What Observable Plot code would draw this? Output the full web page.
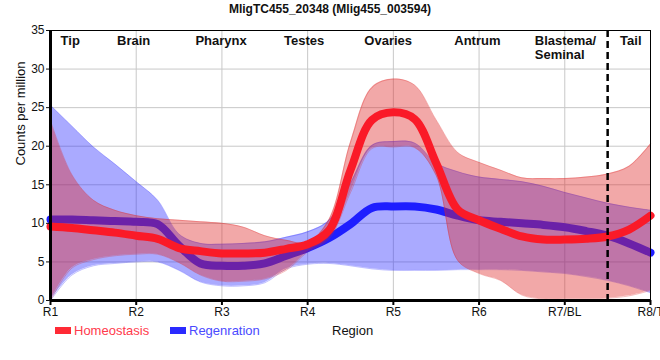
<!DOCTYPE html>
<html><head><meta charset="utf-8">
<script src="https://cdn.jsdelivr.net/npm/d3@7"></script>
<script src="https://cdn.jsdelivr.net/npm/@observablehq/plot@0.6"></script>
<style>
body{margin:0;background:#fff;font-family:"Liberation Sans",Arial,sans-serif;}
#wrap{position:relative;width:660px;height:360px;overflow:hidden;}
#title{position:absolute;left:0;top:0;width:660px;height:18px;line-height:18px;text-align:center;font-weight:bold;font-size:12px;color:#111;}
#chart{position:absolute;left:0;top:20px;}
#legend{position:absolute;left:0;top:320px;width:660px;height:22px;font-size:13px;}
.sw{position:absolute;top:7px;width:16px;height:7px;}
.lt{position:absolute;top:0;line-height:21px;}
</style></head>
<body>
<div id="wrap">
  <div id="title"></div>
  <div id="chart"></div>
  <div id="legend"></div>
</div>
<script>
const title = "MligTC455_20348 (Mlig455_003594)";
const xLabels = ["R1","R2","R3","R4","R5","R6","R7/BL","R8/T"];
const xTicks = [0,1,2,3,4,5,6,7];
const yTicks = [0,5,10,15,20,25,30,35];
const regionNames = ["Tip","Brain","Pharynx","Testes","Ovaries","Antrum","Tail"];
const regionX = [0.23,0.97,1.99,2.96,3.94,4.98,6.77];
const regionMulti = ["Blastema/\nSeminal"];
const regionMultiX = [5.65];
const tailBoundary = [6.5];
const seriesNames = ["Homeostasis","Regenration"];

// sample positions along the region axis (R1 = 0 ... R8/T = 7)
const xPos = [0,0.25,0.5,0.75,1,1.25,1.5,1.75,2,2.25,2.5,2.75,3,3.25,3.5,3.75,4,4.25,4.5,4.75,5,5.25,5.5,5.75,6,6.25,6.5,6.75,7];
// Homeostasis
const hmMean = [9.6,9.4,9.1,8.8,8.4,8.0,6.8,6.4,6.1,6.1,6.2,6.7,7.3,9.1,16.9,23.4,24.4,23.5,17.8,11.8,10.4,9.3,8.3,7.9,7.9,8.0,8.3,9.2,11.0];
const hmHi = [23.3,16.3,13.0,11.7,11.0,10.6,10.4,10.2,10.0,9.5,8.4,7.8,7.5,10.5,20.5,27.6,28.7,27.9,23.4,19.2,17.9,16.9,15.9,15.8,15.8,16.0,16.4,17.4,20.3];
const hmLo = [0,4.2,5.3,5.8,6.0,6.0,4.9,3.3,2.5,2.5,2.8,3.9,6.3,8.0,14.0,19.7,19.9,19.8,16.2,5.2,3.5,2.6,0.7,0.2,0.2,0.2,0.3,0.6,1.3];
// Regeneration
const rgMean = [10.5,10.5,10.4,10.3,10.2,9.9,7.1,4.8,4.5,4.5,4.8,5.8,6.8,8.1,9.9,12.0,12.2,12.2,11.8,11.0,10.4,10.2,10.0,9.8,9.5,9.0,8.4,7.4,6.2];
const rgHi = [25.3,22.6,19.9,17.7,15.4,13.0,8.6,7.4,7.3,7.4,7.6,8.2,8.9,10.4,15.2,20.1,20.6,20.4,17.8,16.7,16.0,15.7,15.4,14.8,14.0,13.3,12.6,12.1,11.7];
const rgLo = [0,3.3,4.5,4.8,5.0,5.0,3.9,2.4,1.9,1.9,2.3,4.1,4.7,4.8,4.5,4.1,3.9,3.9,3.9,4.0,4.0,4.0,3.9,3.7,3.5,3.1,2.6,1.9,1.0];

const rows = xPos.map((x,i)=>({x, hm:hmMean[i], hmLo:hmLo[i], hmHi:hmHi[i], rg:rgMean[i], rgLo:rgLo[i], rgHi:rgHi[i]}));
const curve = "catmull-rom";
const font = "'Liberation Sans', Arial, sans-serif";

document.getElementById("title").textContent = title;

const chart = Plot.plot({
  width: 660, height: 300,
  marginTop: 10, marginBottom: 20, marginLeft: 50, marginRight: 10,
  x: {domain: [0,7]},
  y: {domain: [0,35]},
  style: {fontFamily: font, fontSize: "12px", color: "#111", background: "white", overflow: "visible"},
  marks: [
    Plot.gridX(xTicks, {stroke: "#c8c8c8", strokeOpacity: 1, strokeWidth: 1}),
    Plot.gridY(yTicks, {stroke: "#c8c8c8", strokeOpacity: 1, strokeWidth: 1}),
    Plot.areaY(rows, {x: "x", y1: "rgLo", y2: "rgHi", fill: "#2a2aff", fillOpacity: 0.4, curve}),
    Plot.lineY(rows, {x: "x", y: "rgLo", stroke: "#2a2aff", strokeOpacity: 0.3, strokeWidth: 1, curve}),
    Plot.lineY(rows, {x: "x", y: "rgHi", stroke: "#2a2aff", strokeOpacity: 0.3, strokeWidth: 1, curve}),
    Plot.lineY(rows, {x: "x", y: "rg", stroke: "#1e1eff", strokeWidth: 8, curve}),
    Plot.areaY(rows, {x: "x", y1: "hmLo", y2: "hmHi", fill: "#de2525", fillOpacity: 0.4, curve}),
    Plot.lineY(rows, {x: "x", y: "hmLo", stroke: "#de2525", strokeOpacity: 0.3, strokeWidth: 1, curve}),
    Plot.lineY(rows, {x: "x", y: "hmHi", stroke: "#de2525", strokeOpacity: 0.3, strokeWidth: 1, curve}),
    Plot.lineY(rows, {x: "x", y: "hm", stroke: "#fa1a28", strokeWidth: 8, curve}),
    Plot.ruleX(tailBoundary, {stroke: "black", strokeWidth: 2.5, strokeDasharray: "7,4"}),
    Plot.frame({stroke: "black", strokeWidth: 1}),
    Plot.axisX(xTicks, {tickFormat: i => xLabels[i], tickSize: 5, tickPadding: 2, label: null, fill: "#111", stroke: "black", strokeWidth: 2}),
    Plot.axisY(yTicks, {tickSize: 4, tickPadding: 2, label: null, fill: "#111"}),
    Plot.ruleX([0], {stroke: "black", strokeWidth: 3}),
    Plot.ruleY([0], {stroke: "black", strokeWidth: 3}),
    Plot.text(regionNames, {x: regionX, text: d => d, frameAnchor: "top", lineAnchor: "top", dy: 5, fontWeight: "bold", fontSize: 13, fill: "#111"}),
    Plot.text(regionMulti, {x: regionMultiX, text: d => d, frameAnchor: "top", lineAnchor: "top", textAnchor: "start", dy: 5, lineHeight: 1.05, fontWeight: "bold", fontSize: 13, fill: "#111"}),
    Plot.text(["Counts per million"], {frameAnchor: "left", rotate: -90, dx: -30, fontSize: 13, fill: "#111", text: d => d})
  ]
});
document.getElementById("chart").appendChild(chart);

const legend = document.getElementById("legend");
const items = [
  {name: seriesNames[0], sw: "#ff2a35", tc: "#ff3a4c", swLeft: 55, tLeft: 74},
  {name: seriesNames[1], sw: "#2a2aff", tc: "#4a4aff", swLeft: 170, tLeft: 189}
];
for (const it of items) {
  const s = document.createElement("span"); s.className = "sw"; s.style.left = it.swLeft + "px"; s.style.background = it.sw; legend.appendChild(s);
  const t = document.createElement("span"); t.className = "lt"; t.style.left = it.tLeft + "px"; t.style.color = it.tc; t.textContent = it.name; legend.appendChild(t);
}
const xl = document.createElement("span"); xl.className = "lt"; xl.style.left = "332px"; xl.style.color = "#111"; xl.textContent = "Region"; legend.appendChild(xl);
</script>
</body></html>
